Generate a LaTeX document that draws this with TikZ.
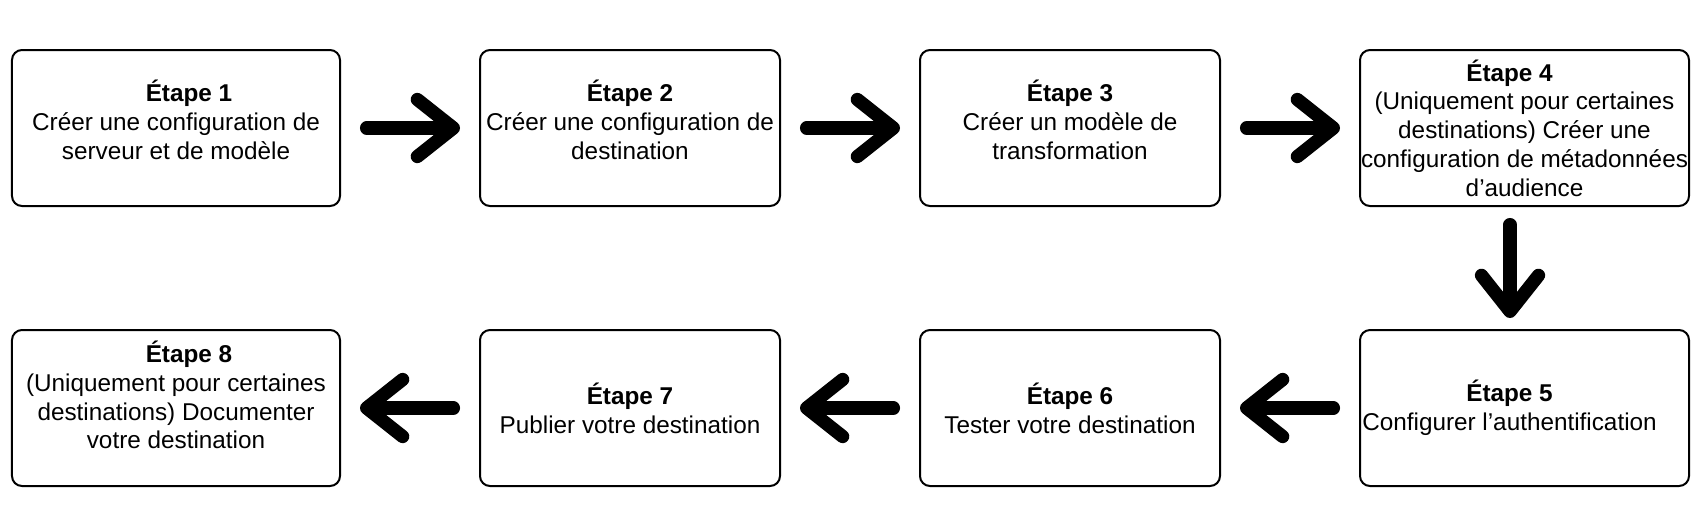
\documentclass[tikz,border=0pt]{standalone}
\usepackage{fontspec}
\setmainfont{Liberation Sans}
\usepackage{tikz}
\usetikzlibrary{
  arrows.meta,
  positioning,
}
\tikzstyle{stepbox} = [
  rectangle,
  draw,
  line width=1pt,
  rounded corners=5pt,
  minimum height=78pt,
  inner xsep=-5pt,
  inner ysep=0pt,
  outer sep=0pt,
  align=center,
  font=\fontsize{12.15}{14.4}\selectfont,
]
\tikzstyle{arrow} = [
  -{Straight Barb[length=18pt,width=28.5pt,round]},
  line width=6.65pt,
  line cap=round,
  black,
]

\begin{document}
\begin{tikzpicture}[node distance=62pt and 70pt]

      \useasboundingbox (-88pt,-199.5pt) rectangle (762pt,64pt);

      % first row, left to right
      \node[stepbox,minimum width=164pt] (step1) {\hspace*{13pt}\textbf{Étape 1}\\Créer une configuration de\\serveur et de modèle\\[-6.4pt]\mbox{}};
      \node[stepbox,minimum width=150pt] (step2) [right=of step1] {\textbf{Étape 2}\\Créer une configuration de\\destination\\[-6.4pt]\mbox{}};
      \node[stepbox,minimum width=150pt] (step3) [right=of step2] {\textbf{Étape 3}\\Créer un modèle de\\transformation\\[-6.4pt]\mbox{}};
      \node[stepbox,minimum width=164.5pt] (step4) [right=of step3] {\textbf{Étape 4}\hspace*{15pt}\\(Uniquement pour certaines\\destinations) Créer une\\configuration de métadonnées\\d’audience};

      % second row, right to left
      \node[stepbox,minimum width=164.5pt] (step5) [below=of step4] {\textbf{Étape 5}\hspace*{15pt}\\Configurer l’authentification\hspace*{15pt}};
      \node[stepbox,minimum width=150pt] (step6) [left=of step5] {\textbf{Étape 6}\\Tester votre destination};
      \node[stepbox,minimum width=150pt] (step7) [left=of step6] {\textbf{Étape 7}\\Publier votre destination};
      \node[stepbox,minimum width=164pt] (step8) [left=of step7] {\hspace*{13pt}\textbf{Étape 8}\\(Uniquement pour certaines\\destinations) Documenter\\votre destination\\[-1.4pt]\mbox{}};

      \draw[arrow,shorten <=13.3pt,shorten >=10pt] (step1.east) -- (step2.west);
      \draw[arrow,shorten <=13.3pt,shorten >=10pt] (step2.east) -- (step3.west);
      \draw[arrow,shorten <=13.3pt,shorten >=10pt] (step3.east) -- (step4.west);
      \draw[arrow,shorten <=9.3pt,shorten >=6pt] ([xshift=-7.25pt]step4.south) -- ([xshift=-7.25pt]step5.north);
      \draw[arrow,shorten <=13.3pt,shorten >=10pt] (step5.west) -- (step6.east);
      \draw[arrow,shorten <=13.3pt,shorten >=10pt] (step6.west) -- (step7.east);
      \draw[arrow,shorten <=13.3pt,shorten >=10pt] (step7.west) -- (step8.east);
    \end{tikzpicture}
\end{document}
